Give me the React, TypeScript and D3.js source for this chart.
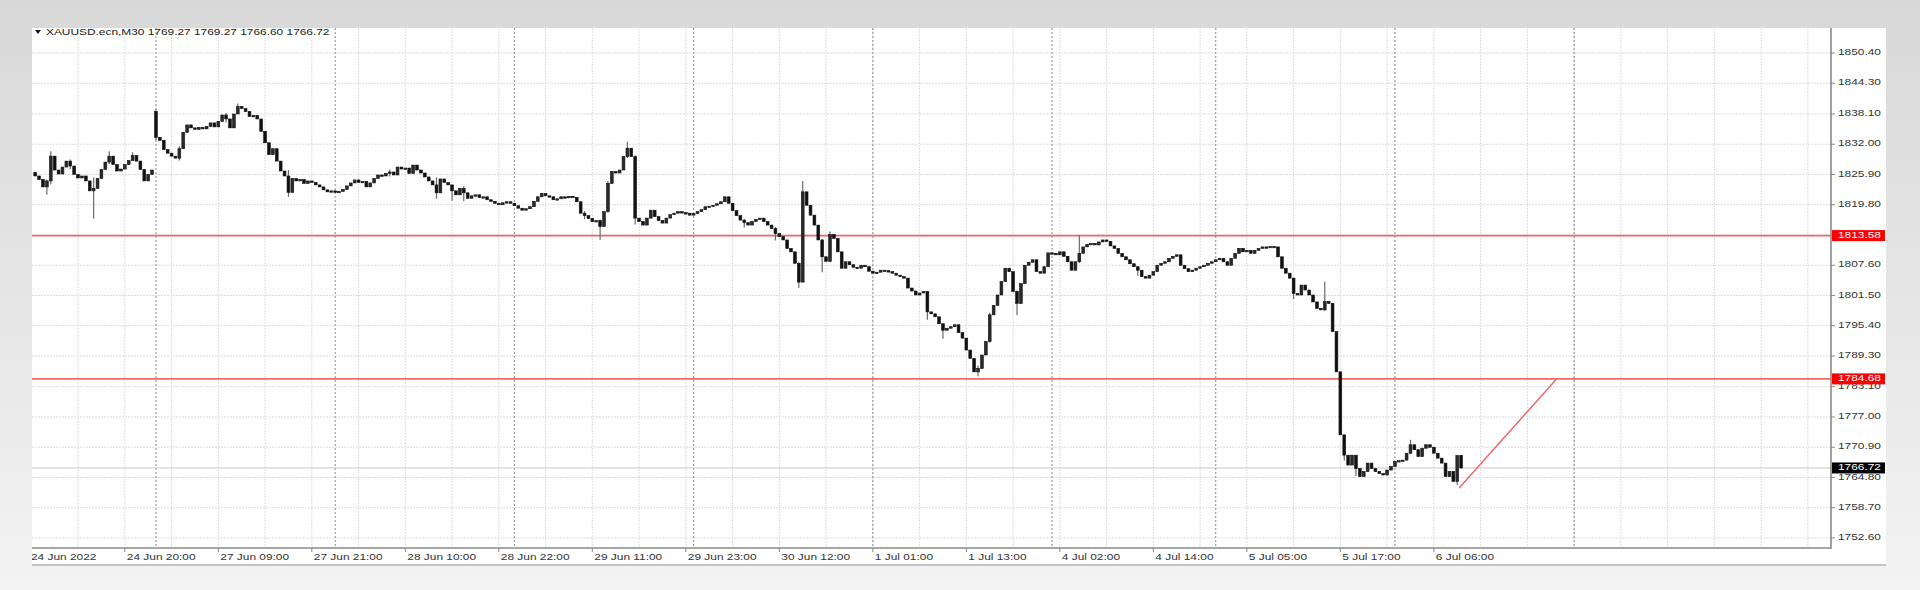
import React from 'react';
import * as d3 from 'd3';

// XAUUSD M30 closes, one array per trading day (MT4 chart, 24 Jun - 6 Jul 2022)
const close24Jun = [1825.6, 1824.9, 1823.4, 1824.6, 1829.6, 1826.8, 1826.0, 1827.4, 1828.6, 1827.6, 1825.9, 1825.2, 1825.6, 1824.6, 1822.6, 1823.1, 1825.1, 1826.9, 1828.4, 1829.6, 1827.9, 1826.6, 1827.0, 1827.9, 1828.7, 1829.7, 1828.6, 1826.9, 1824.6, 1825.9, 1826.8];
const close27Jun = [1833.4, 1832.8, 1830.9, 1830.2, 1829.6, 1829.2, 1831.1, 1834.4, 1835.9, 1835.3, 1835.0, 1835.4, 1835.1, 1835.6, 1836.3, 1835.5, 1836.6, 1837.9, 1837.1, 1835.3, 1838.1, 1839.6, 1839.2, 1838.6, 1837.6, 1837.8, 1837.1, 1834.6, 1832.3, 1829.9, 1831.1, 1828.6, 1826.6, 1825.6, 1822.3, 1825.1, 1824.6, 1824.9, 1824.1, 1824.6, 1824.3, 1823.8, 1823.4, 1822.8, 1822.4, 1822.6];
const close28Jun = [1822.3, 1822.5, 1822.9, 1823.6, 1824.2, 1824.8, 1824.3, 1824.5, 1823.4, 1824.2, 1825.1, 1825.8, 1825.6, 1826.1, 1826.4, 1825.8, 1827.4, 1827.0, 1827.2, 1826.1, 1827.8, 1826.8, 1826.2, 1825.4, 1824.6, 1823.8, 1822.2, 1825.0, 1824.3, 1823.8, 1822.6, 1821.8, 1823.1, 1822.2, 1821.1, 1821.6, 1821.8, 1821.3, 1821.4, 1820.8, 1820.5, 1820.1, 1819.8, 1820.2, 1820.4, 1820.1];
const close29Jun = [1819.6, 1819.1, 1818.7, 1819.0, 1819.4, 1820.5, 1821.4, 1822.1, 1821.6, 1821.4, 1820.8, 1821.0, 1821.4, 1821.2, 1821.5, 1821.3, 1820.4, 1818.1, 1817.6, 1817.0, 1816.4, 1816.6, 1815.4, 1818.4, 1824.1, 1826.5, 1826.2, 1826.8, 1829.5, 1831.2, 1829.5, 1817.1, 1816.4, 1815.7, 1817.1, 1818.7, 1817.4, 1816.6, 1816.1, 1817.1, 1817.8, 1818.1, 1818.4, 1818.2, 1818.1, 1817.7];
const close30Jun = [1818.0, 1818.4, 1818.8, 1819.4, 1819.5, 1819.7, 1820.0, 1820.4, 1821.4, 1820.1, 1818.6, 1817.6, 1816.7, 1816.2, 1815.7, 1816.4, 1816.8, 1817.1, 1816.4, 1815.7, 1815.0, 1814.0, 1813.4, 1812.7, 1811.0, 1810.3, 1808.0, 1804.2, 1822.4, 1819.7, 1817.7, 1815.7, 1812.7, 1809.3, 1808.4, 1813.8, 1813.0, 1810.3, 1807.0, 1808.3, 1807.7, 1807.2, 1807.0, 1807.6, 1807.3, 1806.4];
const close1Jul = [1806.0, 1806.2, 1806.6, 1806.5, 1806.3, 1806.0, 1805.6, 1805.3, 1805.0, 1803.0, 1802.4, 1801.6, 1802.0, 1802.3, 1798.2, 1797.8, 1797.2, 1795.8, 1794.5, 1794.9, 1795.2, 1795.6, 1794.0, 1792.9, 1790.5, 1788.8, 1786.1, 1786.8, 1789.5, 1792.2, 1797.6, 1799.5, 1801.6, 1804.3, 1807.0, 1806.3, 1802.3, 1799.9, 1803.9, 1807.6, 1808.2, 1808.7, 1806.3, 1806.0, 1807.3, 1810.1];
const close4Jul = [1810.0, 1809.7, 1810.3, 1809.4, 1808.3, 1806.6, 1808.3, 1810.0, 1811.3, 1811.8, 1812.0, 1811.7, 1812.3, 1812.7, 1812.4, 1811.5, 1811.0, 1810.0, 1809.3, 1808.7, 1807.9, 1807.3, 1806.6, 1805.3, 1805.0, 1805.6, 1806.3, 1807.6, 1808.0, 1808.3, 1809.0, 1809.4, 1809.7, 1807.6, 1806.9, 1806.3, 1806.6, 1807.0, 1807.3, 1807.6, 1808.0, 1808.3];
const close5Jul = [1808.7, 1809.0, 1808.3, 1807.6, 1809.0, 1810.0, 1811.0, 1810.3, 1810.6, 1810.0, 1810.6, 1811.0, 1811.3, 1811.2, 1811.4, 1811.3, 1809.3, 1807.0, 1806.0, 1805.0, 1801.9, 1801.6, 1803.6, 1802.6, 1801.6, 1800.2, 1798.9, 1798.6, 1800.3, 1799.9, 1794.2, 1786.1, 1773.4, 1769.3, 1767.3, 1769.3, 1766.6, 1765.0, 1766.0, 1767.7, 1766.6, 1766.0, 1765.6, 1765.3, 1766.3, 1767.0];
const close6Jul = [1768.0, 1768.2, 1768.3, 1769.7, 1771.4, 1770.4, 1769.0, 1770.7, 1771.4, 1770.9, 1769.7, 1768.7, 1767.7, 1765.0, 1766.0, 1764.0, 1769.2, 1766.72];

const closes = [...close24Jun, ...close27Jun, ...close28Jun, ...close29Jun, ...close30Jun, ...close1Jul, ...close4Jul, ...close5Jul, ...close6Jul];
const firstOpen = 1826.3;
// bars that open away from the previous close: [bar, open]
const gapOpens = [[31, 1838.6], [366, 1769.27]];
// visible wicks: [bar, high, low]
const wicks = [
  [3, 1824.9, 1821.8], [4, 1830.6, 1823.9], [9, 1828.9, 1827.0], [15, 1825.3, 1817.0],
  [19, 1830.6, 1828.0], [25, 1830.4, 1829.0], [31, 1839.0, 1832.8], [37, 1831.6, 1828.7],
  [49, 1838.3, 1836.4], [52, 1840.2, 1838.9], [65, 1826.8, 1821.4], [91, 1826.9, 1825.5],
  [103, 1825.3, 1821.0], [107, 1823.2, 1820.6], [110, 1823.6, 1820.5], [141, 1818.5, 1816.9],
  [145, 1816.8, 1812.7], [147, 1824.6, 1818.2], [152, 1832.5, 1829.2], [154, 1829.8, 1815.8],
  [182, 1816.9, 1815.2], [190, 1815.3, 1812.6], [196, 1808.2, 1803.0], [197, 1824.6, 1804.2],
  [202, 1812.9, 1806.2], [204, 1814.4, 1808.2], [229, 1802.4, 1796.6], [233, 1795.8, 1792.8],
  [242, 1787.4, 1785.2], [245, 1798.0, 1792.0], [252, 1802.5, 1797.5], [268, 1813.7, 1808.0],
  [283, 1806.9, 1805.5], [323, 1805.1, 1800.8], [331, 1804.3, 1798.4], [336, 1773.4, 1768.2],
  [339, 1769.3, 1765.1], [353, 1772.4, 1769.5], [365, 1769.3, 1763.3], [366, 1769.27, 1766.60],
];

const yTicks = ['1850.40', '1844.30', '1838.10', '1832.00', '1825.90', '1819.80', '1813.70', '1807.60', '1801.50', '1795.40', '1789.30', '1783.10', '1777.00', '1770.90', '1764.80', '1758.70', '1752.60'];
const xLabels = ['24 Jun 2022', '24 Jun 20:00', '27 Jun 09:00', '27 Jun 21:00', '28 Jun 10:00', '28 Jun 22:00', '29 Jun 11:00', '29 Jun 23:00', '30 Jun 12:00', '1 Jul 01:00', '1 Jul 13:00', '4 Jul 02:00', '4 Jul 14:00', '5 Jul 05:00', '5 Jul 17:00', '6 Jul 06:00'];
const xLabelBars = [0, 23, 47, 71, 95, 119, 143, 167, 191, 215, 239, 263, 287, 311, 335, 359];
const daySeparators = [31, 77, 123, 169, 215, 261, 303, 349, 395];
const levels = [1813.58, 1784.68];
const lastPrice = 1766.72;
const trendLine = [[365.5, 1762.7], [390.5, 1784.68]];
const header = 'XAUUSD.ecn,M30  1769.27 1769.27 1766.60 1766.72';

const W = 1920, H = 590;
const box = { left: 32, top: 28, right: 1886, bottom: 566 };
const plot = { left: 32, top: 28, right: 1831, bottom: 548 };
const lastBar = 461; // bars that fit up to the price scale
const FONT = '"Liberation Sans", Arial, sans-serif';
const RED = '#f06868';

const x = d3.scaleLinear().domain([0, lastBar]).range([35.2, 35.2 + lastBar * 3.896]);
const y = d3.scaleLinear().domain([1750.58, 1855.44]).range([plot.bottom, plot.top]);

const candles = closes.map((c, i) => {
  const g = gapOpens.find(d => d[0] === i);
  const open = g ? g[1] : i === 0 ? firstOpen : closes[i - 1];
  const w = wicks.find(d => d[0] === i);
  return {
    i, open, close: c,
    high: Math.max(open, c, w ? w[1] : -Infinity),
    low: Math.min(open, c, w ? w[2] : Infinity),
  };
});

const gridBars = d3.range(11, lastBar, 12);

const Txt = ({ x: tx, y: ty, text, fill = '#333', anchor = 'start' }: any) => (
  <text transform={`translate(${tx},${ty}) scale(1.4,1)`} fontFamily={FONT} fontSize={8.5}
    fill={fill} textAnchor={anchor} dominantBaseline="middle">{text}</text>
);

export default function App() {
  const bw = 2.8;
  return (
    <div style={{ position: 'fixed', left: 0, top: 0 }}>
      <svg width={W} height={H} style={{ display: 'block' }}>
        <defs>
          <linearGradient id="bg" x1="0" y1="0" x2="0" y2="1">
            <stop offset="0%" stopColor="#d8d8d8" />
            <stop offset="100%" stopColor="#f3f3f3" />
          </linearGradient>
          <clipPath id="plotClip">
            <rect x={plot.left} y={plot.top} width={plot.right - plot.left} height={plot.bottom - plot.top} />
          </clipPath>
        </defs>
        <rect width={W} height={H} fill="url(#bg)" />
        <rect x={box.left} y={box.top} width={box.right - box.left} height={box.bottom - box.top} fill="#fff" />

        <g clipPath="url(#plotClip)">
          {/* light grid */}
          {yTicks.map(t => (
            <line key={'h' + t} x1={plot.left} x2={plot.right} y1={y(+t)} y2={y(+t)}
              stroke="#dedede" strokeDasharray="2,1" />
          ))}
          {gridBars.map(b => (
            <line key={'v' + b} x1={x(b)} x2={x(b)} y1={plot.top} y2={plot.bottom}
              stroke="#dedede" strokeDasharray="2,1" />
          ))}
          {/* day separators */}
          {daySeparators.map(b => (
            <line key={'d' + b} x1={x(b)} x2={x(b)} y1={plot.top} y2={plot.bottom}
              stroke="#9c9c9c" strokeWidth={1.2} strokeDasharray="2,2" />
          ))}
          {/* bid line */}
          <line x1={plot.left} x2={plot.right} y1={y(lastPrice)} y2={y(lastPrice)} stroke="#c8c8c8" />
          {/* horizontal levels */}
          {levels.map(l => (
            <line key={'l' + l} x1={plot.left} x2={plot.right} y1={y(l)} y2={y(l)} stroke={RED} strokeWidth={1.6} />
          ))}
          <line x1={x(trendLine[0][0])} y1={y(trendLine[0][1])} x2={x(trendLine[1][0])} y2={y(trendLine[1][1])}
            stroke={RED} strokeWidth={1.5} />
          {/* candles */}
          {candles.map(d => {
            const cx = x(d.i);
            const top = y(Math.max(d.open, d.close));
            const bot = y(Math.min(d.open, d.close));
            const bull = d.close > d.open;
            return (
              <g key={d.i}>
                <line x1={cx} x2={cx} y1={y(d.high)} y2={y(d.low)} stroke="#6a6a6a" strokeWidth={1.2} />
                <rect x={cx - bw / 2} y={top} width={bw} height={Math.max(bot - top, 1.4)}
                  fill={bull ? '#2a2a2a' : '#111'} stroke="#111" strokeWidth={0.6} />
              </g>
            );
          })}
        </g>

        {/* frame */}
        <line x1={plot.right} x2={plot.right} y1={plot.top} y2={plot.bottom + 1} stroke="#8a8a8a" strokeWidth={1.6} />
        <line x1={plot.left} x2={plot.right} y1={plot.bottom} y2={plot.bottom} stroke="#8a8a8a" strokeWidth={1.6} />
        <line x1={box.left} x2={box.right} y1={box.bottom - 1} y2={box.bottom - 1} stroke="#c4c4c4" strokeWidth={2} />

        {/* price scale */}
        {yTicks.map(t => (
          <g key={'yt' + t}>
            <line x1={plot.right} x2={plot.right + 4} y1={y(+t)} y2={y(+t)} stroke="#8a8a8a" />
            <Txt x={1838} y={y(+t)} text={t} />
          </g>
        ))}
        {levels.map(l => (
          <g key={'ll' + l}>
            <rect x={plot.right + 1} y={y(l) - 5.5} width={53} height={11} fill="#ff0000" />
            <Txt x={1838} y={y(l)} text={l.toFixed(2)} fill="#fff" />
          </g>
        ))}
        <rect x={plot.right + 1} y={y(lastPrice) - 5.5} width={53} height={11} fill="#000" />
        <Txt x={1838} y={y(lastPrice)} text={lastPrice.toFixed(2)} fill="#fff" />

        {/* time scale */}
        <clipPath id="timeClip">
          <rect x={box.left} y={plot.bottom} width={plot.right - box.left} height={box.bottom - plot.bottom} />
        </clipPath>
        <g clipPath="url(#timeClip)">
          {xLabels.map((lab, k) => {
            const bx = k === 0 ? box.left - 3 : x(xLabelBars[k]);
            return (
              <g key={'xl' + lab}>
                <line x1={bx} x2={bx} y1={plot.bottom} y2={plot.bottom + 4} stroke="#8a8a8a" />
                <Txt x={bx + 2} y={558} text={lab} />
              </g>
            );
          })}
        </g>

        {/* header */}
        <path d="M35,30 L41,30 L38,34 Z" fill="#111" />
        <Txt x={46} y={32.5} text={header} fill="#222" />
      </svg>
    </div>
  );
}
